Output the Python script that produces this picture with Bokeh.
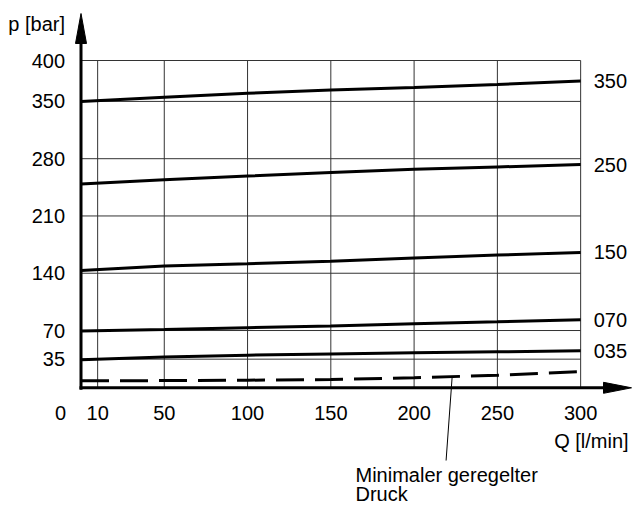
from bokeh.plotting import figure
from bokeh.models import Range1d
from bokeh.core.properties import value
from bokeh.embed import file_html
from bokeh.resources import INLINE

# ---- data ----
flow = [0, 50, 100, 150, 200, 250, 300]
p350 = [350.0, 355.1, 360.0, 363.8, 367.0, 370.6, 375.0]
p250 = [249.2, 254.4, 258.8, 263.0, 267.0, 269.9, 272.8]
p150 = [143.5, 148.8, 151.6, 154.7, 158.6, 162.2, 165.5]
p070 = [69.3, 71.3, 73.4, 75.4, 78.3, 80.7, 83.2]
p035 = [34.2, 37.5, 39.9, 41.4, 42.8, 44.0, 45.2]
pmin = [8.5, 8.8, 9.3, 10.1, 12.2, 15.4, 19.9]
curves = [p350, p250, p150, p070, p035]
curve_labels = ["350", "250", "150", "070", "035"]
x_ticks = [10, 50, 100, 150, 200, 250, 300]
x_tick_labels = ["10", "50", "100", "150", "200", "250", "300"]
y_ticks = [35, 70, 140, 210, 280, 350, 400]
y_tick_labels = ["35", "70", "140", "210", "280", "350", "400"]
x_max, y_max = 300, 400
x_title = "Q [l/min]"
y_title = "p [bar]"
note_lines = ["Minimaler geregelter", "Druck"]
note_anchor = (222.8, 12.0)     # point on the dashed curve
note_foot = (219.2, -88.9)      # end of the leader line

# ---- geometry ----
W, H = 632, 505
X0, Y0 = 80.5, 387.3          # page pixel of the origin
SX = (580 - 97) / 290          # px per l/min
SY = (387.3 - 60) / 400        # px per bar
FONT = "Liberation Sans"
FS = "20px"

p = figure(width=W, height=H, output_backend="svg", toolbar_location=None,
           x_range=Range1d(-X0 / SX, (W - X0) / SX),
           y_range=Range1d(-(H - Y0) / SY, Y0 / SY),
           x_axis_location=None, y_axis_location=None,
           min_border=0)
p.outline_line_color = None
p.grid.visible = False
p.background_fill_color = "white"
p.border_fill_color = "white"

GRID = "#333333"
p.segment(x0=x_ticks, y0=[0] * len(x_ticks), x1=x_ticks, y1=[y_max] * len(x_ticks),
          line_color=GRID, line_width=1)
p.segment(x0=[0] * len(y_ticks), y0=y_ticks, x1=[x_max] * len(y_ticks), y1=y_ticks,
          line_color=GRID, line_width=1)

for c in curves:
    p.line(flow, c, line_color="black", line_width=3)
p.line(flow, pmin, line_color="black", line_width=3, line_dash="28 11")

txt = dict(text_font=value(FONT), text_font_size=FS, text_color="black",
           text_baseline="middle")

# curve labels at the right end
p.text(x=[x_max] * len(curves), y=[c[-1] for c in curves], text=curve_labels,
       x_offset=13, text_align="left", **txt)

# tick labels
p.text(x=[0] * len(y_ticks), y=y_ticks, text=y_tick_labels, x_offset=-16,
       text_align="right", **txt)
p.text(x=x_ticks, y=[0] * len(x_ticks), text=x_tick_labels, y_offset=25,
       text_align="center", **txt)
p.text(x=[0], y=[0], text=["0"], x_offset=-20.5, y_offset=25,
       text_align="center", **txt)

# axis titles
p.text(x=[0], y=[y_max], text=[y_title], x_offset=-16, y_offset=-37,
       text_align="right", **txt)
p.text(x=[x_max], y=[0], text=[x_title], x_offset=48, y_offset=53,
       text_align="right", **txt)

# axes with arrow heads
x_tip = (631 - X0) / SX
y_tip = (Y0 - 13) / SY
p.line([0, 0], [-2 / SY, y_tip - 20 / SY], line_color="black", line_width=3)
p.line([-1.5 / SX, x_tip - 20 / SX], [0, 0], line_color="black", line_width=3)
p.patch([-5.5 / SX, 5.5 / SX, 0], [y_tip - 30 / SY, y_tip - 30 / SY, y_tip],
        fill_color="black", line_color="black", line_width=1)
p.patch([x_tip - 28 / SX, x_tip - 28 / SX, x_tip], [-5.5 / SY, 5.5 / SY, 0],
        fill_color="black", line_color="black", line_width=1)

# leader line and note
p.segment(x0=[note_anchor[0]], y0=[note_anchor[1]], x1=[note_foot[0]], y1=[note_foot[1]],
          line_color="black", line_width=1)
p.text(x=[note_foot[0]] * 2, y=[note_foot[1]] * 2, text=note_lines,
       x_offset=355 - (X0 + note_foot[0] * SX), y_offset=[14, 33.5],
       text_align="left", **txt)

open("out.html", "w").write(file_html(p, INLINE))
